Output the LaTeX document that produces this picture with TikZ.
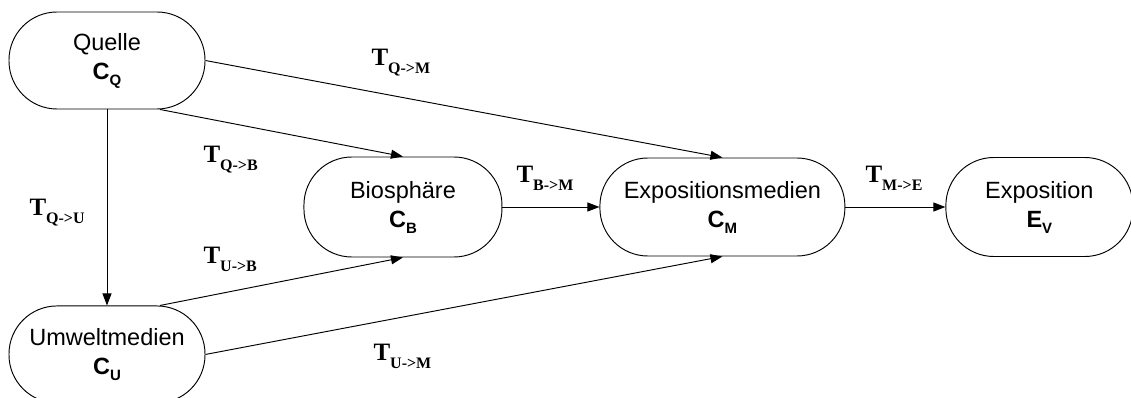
\documentclass[tikz,border=0pt]{standalone}
\usepackage{fontspec}
\setmainfont{Liberation Sans}
\newfontfamily\timesbold{Liberation Serif}
\usetikzlibrary{arrows.meta,positioning}

\newcommand{\conc}[2]{\textbf{#1}\raisebox{-6pt}{\fontsize{15}{15}\selectfont\bfseries #2}}
\newcommand{\transf}[1]{{\timesbold\bfseries T\raisebox{-8pt}{\fontsize{16}{16}\selectfont #1}}}

\begin{document}
\begin{tikzpicture}[
    node distance=98pt and 98pt,
    comp/.style={rectangle, rounded corners=48pt, draw=black, line width=0.95pt, minimum width=196pt, minimum height=97pt, align=center, font=\fontsize{23.5}{29}\selectfont},
    arr/.style={-{Triangle[length=12pt,width=9pt]}, line width=0.95pt},
    lbl/.style={anchor=base west, font=\fontsize{25}{25}\selectfont}
]
\useasboundingbox (-107pt,60.5pt) rectangle (1024pt,-337.5pt);

\node[comp] (Q) at (0,0) {Quelle\\\conc{C}{Q}};
\node[comp, below=196pt of Q] (U) {Umweltmedien\\\conc{C}{U}};
\node[comp, minimum width=198pt, minimum height=100pt, right=98pt of Q, yshift=-146.5pt] (B) {Biosph\"are\\\conc{C}{B}};
\node[comp, minimum width=245pt, minimum height=98pt, right=97pt of B] (M) {Expositionsmedien\\\conc{C}{M}};
\node[comp, minimum width=187pt, minimum height=99pt, right=100pt of M] (E) {Exposition\\\conc{E}{V}};

\draw[arr] (Q.east) -- (M.north);
\draw[arr] ([xshift=53pt]Q.south) -- (B.north);
\draw[arr] (Q) -- (U);
\draw[arr] ([xshift=53pt]U.north) -- (B.south);
\draw[arr] (U.east) -- (M.south);
\draw[arr] (B) -- (M);
\draw[arr] (M) -- (E);

% transfer labels
\node[lbl] (tqm) at (261pt,-5.5pt) {\transf{Q->M}};
\node[lbl] (tqb) at (93pt,-102.5pt) {\transf{Q->B}};
\node[lbl] (tqu) at (-81pt,-155.5pt) {\transf{Q->U}};
\node[lbl] (tub) at (93pt,-202.5pt) {\transf{U->B}};
\node[lbl] (tum) at (263pt,-299.5pt) {\transf{U->M}};
\node[lbl] (tbm) at (406pt,-122.5pt) {\transf{B->M}};
\node[lbl] (tme) at (755pt,-122.5pt) {\transf{M->E}};
\end{tikzpicture}
\end{document}
